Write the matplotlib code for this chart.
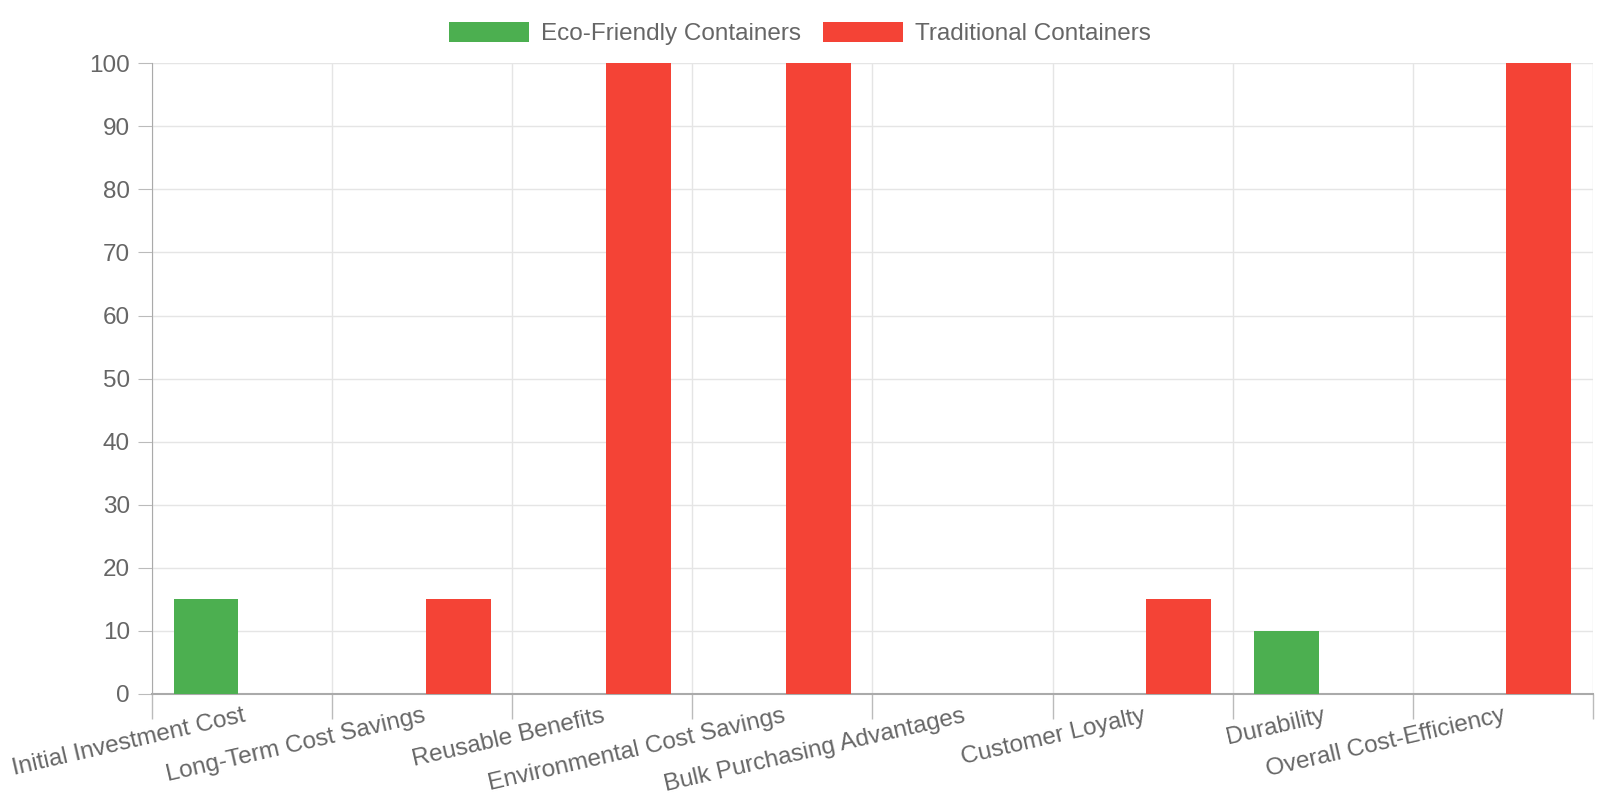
import numpy as np
import matplotlib.pyplot as plt

# Datos del gráfico
categories = ['Initial Investment Cost', 'Long-Term Cost Savings', 'Reusable Benefits',
              'Environmental Cost Savings', 'Bulk Purchasing Advantages', 'Customer Loyalty',
              'Durability', 'Overall Cost-Efficiency']
eco_values = [15, 0, 0, 0, 0, 0, 10, 0]
trad_values = [0, 15, 100, 100, 0, 15, 0, 100]
series_names = ['Eco-Friendly Containers', 'Traditional Containers']
y_ticks = list(range(0, 101, 10))

plt.rcParams['font.family'] = ['Liberation Sans', 'DejaVu Sans']
text_color = '#666666'
grid_color = '#e5e5e5'
fs = 17.5

fig = plt.figure(figsize=(16, 8), dpi=100)
W, H = 1568, 784
ax = fig.add_axes([149 / W, 1 - 680 / H, (1561 - 149) / W, (680 - 62) / H])

x = np.arange(len(categories))
width = 0.36
offset = 0.2
ax.bar(x - offset, eco_values, width, color='#4CAF50', label=series_names[0], zorder=3)
ax.bar(x + offset, trad_values, width, color='#F44336', label=series_names[1], zorder=3)

ax.set_xlim(-0.5, len(categories) - 0.5)
ax.set_ylim(0, 100)
ax.set_yticks(y_ticks)
ax.set_yticklabels([str(v) for v in y_ticks], fontsize=fs, color=text_color)

# Rejilla vertical en los bordes de cada categoría
ax.set_xticks(np.arange(len(categories) + 1) - 0.5, minor=True)
ax.set_xticks(x)
ax.set_xticklabels(categories, rotation=13, ha='right', rotation_mode='anchor',
                   fontsize=fs, color=text_color)
ax.tick_params(axis='x', which='major', length=0, pad=8)
ax.tick_params(axis='x', which='minor', length=18, color='#bbbbbb', width=1)
ax.tick_params(axis='y', length=10, color='#bbbbbb', pad=6)
ax.grid(True, axis='y', color=grid_color, linewidth=1, zorder=0)
ax.grid(True, axis='x', which='minor', color=grid_color, linewidth=1, zorder=0)

for side in ['top', 'right']:
    ax.spines[side].set_visible(False)
ax.spines['left'].set_color('#aaaaaa')
ax.spines['bottom'].set_color('#aaaaaa')
ax.spines['bottom'].set_linewidth(1.5)

fig.legend(loc='upper center', bbox_to_anchor=(0.5, 1.0), ncol=2, frameon=False,
           fontsize=fs, labelcolor=text_color, handlelength=3.3, handleheight=0.9,
           columnspacing=0.9, handletextpad=0.5)

fig.savefig('out.png', dpi=100)
